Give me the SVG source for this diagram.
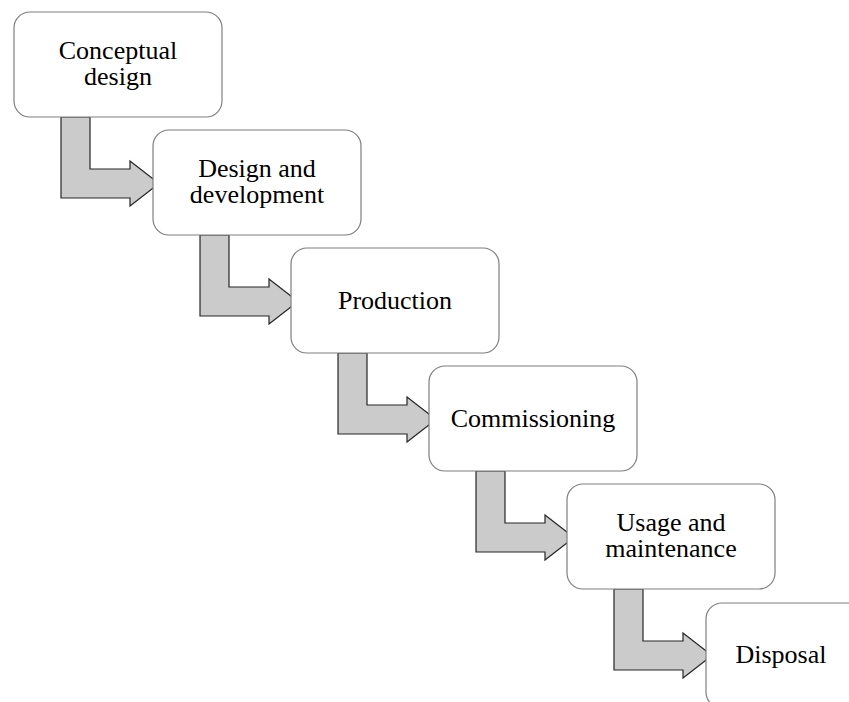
<svg xmlns="http://www.w3.org/2000/svg" xmlns:xlink="http://www.w3.org/1999/xlink" width="849" height="702" viewBox="0 0 849 702">
  <style>
    .box { fill: #ffffff; stroke: #7f7f7f; stroke-width: 1.2; }
    .arrow { fill: #cbcbcb; stroke: #262626; stroke-width: 1.2; stroke-linejoin: miter; }
    .label { font-family: "Liberation Serif", "Times New Roman", serif; font-size: 26px; fill: #000000; text-anchor: middle; }
  </style>
  <defs>
    <!-- elbow arrow, relative to the top-left corner of the stage box it leaves -->
    <path id="elbow" class="arrow" d="M47,105 H76 V157 H116 V149 L145,171.5 L116,194 V186 H47 Z"/>
    <rect id="stage" class="box" x="0" y="0" width="208" height="105" rx="16" ry="16"/>
  </defs>

  <rect width="849" height="702" fill="#ffffff"/>

  <g id="connectors">
    <use xlink:href="#elbow" transform="translate(14,12)"/>
    <use xlink:href="#elbow" transform="translate(153,130)"/>
    <use xlink:href="#elbow" transform="translate(291,248)"/>
    <use xlink:href="#elbow" transform="translate(429,366)"/>
    <use xlink:href="#elbow" transform="translate(567,484)"/>
  </g>

  <g id="conceptual-design">
    <use xlink:href="#stage" transform="translate(14,12)"/>
    <text class="label" x="118" y="59">Conceptual</text>
    <text class="label" x="118" y="84.5">design</text>
  </g>

  <g id="design-and-development">
    <use xlink:href="#stage" transform="translate(153,130)"/>
    <text class="label" x="257" y="177">Design and</text>
    <text class="label" x="257" y="202.5">development</text>
  </g>

  <g id="production">
    <use xlink:href="#stage" transform="translate(291,248)"/>
    <text class="label" x="395" y="309">Production</text>
  </g>

  <g id="commissioning">
    <use xlink:href="#stage" transform="translate(429,366)"/>
    <text class="label" x="533" y="427">Commissioning</text>
  </g>

  <g id="usage-and-maintenance">
    <use xlink:href="#stage" transform="translate(567,484)"/>
    <text class="label" x="671" y="531">Usage and</text>
    <text class="label" x="671" y="556.5">maintenance</text>
  </g>

  <g id="disposal">
    <use xlink:href="#stage" transform="translate(706,603)"/>
    <text class="label" x="781" y="663">Disposal</text>
  </g>
</svg>
